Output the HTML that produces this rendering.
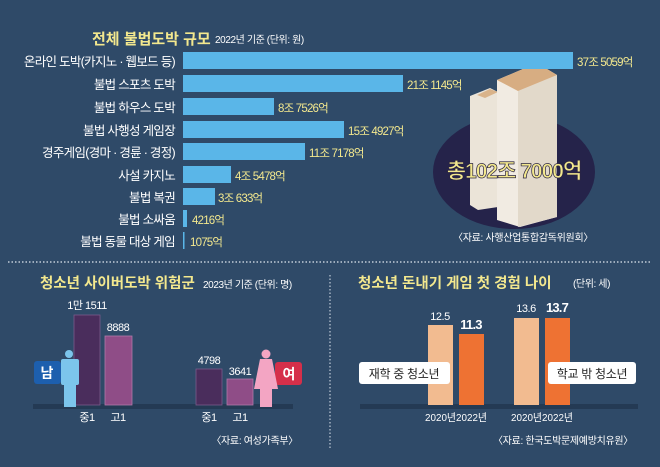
<!DOCTYPE html>
<html><head><meta charset="utf-8"><style>
body{margin:0;width:660px;height:467px;overflow:hidden;background:#2f4a68;}
svg{display:block}
text{font-family:"Liberation Sans","Noto Sans CJK KR",sans-serif;}
</style></head><body>
<svg width="660" height="467" viewBox="0 0 660 467">
<rect width="660" height="467" fill="#2f4a68"/>
<text x="92" y="44" font-size="15" font-weight="bold" fill="#f3e88e">전체 불법도박 규모</text>
<text x="215" y="43" font-size="10" fill="#fff" letter-spacing="-0.4">2022년 기준 (단위: 원)</text>
<ellipse cx="514" cy="172" rx="81" ry="57" fill="#25234a"/>
<polygon points="470,96 490,88 498,92 498,207 478,210 470,205" fill="#ebe4d8"/>
<polygon points="477,95 490,89 498,92 485,98" fill="#d9b38a"/>
<polygon points="497,80 537,63 557,75 557,217 520,227 497,220" fill="#f1ebe2"/>
<polygon points="518,91 557,75 557,217 518,227" fill="#e2d9ca"/>
<polygon points="497,80 537,63 557,75 518,91" fill="#d7ad82"/>
<text x="514" y="178" font-size="21" font-weight="bold" fill="#f3e88e" text-anchor="middle" stroke="#2a2340" stroke-width="0.7" letter-spacing="-1">총102조 7000억</text>
<text x="453" y="241" font-size="10" fill="#fff" letter-spacing="-0.3">〈자료: 사행산업통합감독위원회〉</text>
<g font-size="12.5" fill="#fff" text-anchor="end" letter-spacing="-0.7">
<text x="175" y="66">온라인 도박(카지노 · 웹보드 등)</text>
<text x="175" y="89">불법 스포츠 도박</text>
<text x="175" y="112">불법 하우스 도박</text>
<text x="175" y="135">불법 사행성 게임장</text>
<text x="175" y="157">경주게임(경마 · 경륜 · 경정)</text>
<text x="175" y="180">사설 카지노</text>
<text x="175" y="202">불법 복권</text>
<text x="175" y="224">불법 소싸움</text>
<text x="175" y="246">불법 동물 대상 게임</text>
</g>
<g fill="#5ab6e8">
<rect x="183" y="52" width="390" height="17"/>
<rect x="183" y="75" width="220" height="17"/>
<rect x="183" y="98" width="91" height="17"/>
<rect x="183" y="121" width="161" height="17"/>
<rect x="183" y="143" width="122" height="17"/>
<rect x="183" y="166" width="48" height="17"/>
<rect x="183" y="188" width="32" height="17"/>
<rect x="183" y="210" width="4" height="17"/>
<rect x="183" y="232" width="1.5" height="17"/>
</g>
<g font-size="11.5" fill="#f3e88e" letter-spacing="-0.8">
<text x="577" y="66">37조 5059억</text>
<text x="407" y="89">21조 1145억</text>
<text x="278" y="112">8조 7526억</text>
<text x="348" y="135">15조 4927억</text>
<text x="309" y="157">11조 7178억</text>
<text x="235" y="180">4조 5478억</text>
<text x="218" y="202">3조 633억</text>
<text x="192" y="224">4216억</text>
<text x="190" y="246">1075억</text>
</g>
<line x1="8" y1="262" x2="652" y2="262" stroke="#dfe6ee" stroke-width="1.2" stroke-dasharray="1.5,2"/>
<line x1="330" y1="275" x2="330" y2="450" stroke="#dfe6ee" stroke-width="1" stroke-dasharray="1.5,2"/>
<text x="40" y="288" font-size="14.5" font-weight="bold" fill="#f3e88e">청소년 사이버도박 위험군</text>
<text x="203" y="288" font-size="10" fill="#fff" letter-spacing="-0.4">2023년 기준 (단위: 명)</text>
<rect x="33" y="404" width="260" height="5" fill="#243a54"/>
<rect x="74" y="315" width="26" height="90" fill="#4a2d5c" stroke="#7a5a8a" stroke-width="0.8"/>
<rect x="105" y="336" width="27" height="69" fill="#8f4d87" stroke="#b07aa8" stroke-width="0.8"/>
<rect x="196" y="369" width="26" height="36" fill="#4a2d5c" stroke="#7a5a8a" stroke-width="0.8"/>
<rect x="227" y="379" width="26" height="26" fill="#8f4d87" stroke="#b07aa8" stroke-width="0.8"/>
<g font-size="11" fill="#fff" text-anchor="middle" letter-spacing="-0.5">
<text x="87" y="309">1만 1511</text>
<text x="118" y="331">8888</text>
<text x="209" y="364">4798</text>
<text x="240" y="375">3641</text>
<text x="87" y="421">중1</text><text x="118" y="421">고1</text>
<text x="209" y="421">중1</text><text x="240" y="421">고1</text>
</g>
<rect x="34" y="361" width="27" height="23" rx="3" fill="#1d5fae"/>
<text x="47" y="378" font-size="14" font-weight="bold" fill="#fff" text-anchor="middle">남</text>
<circle cx="69" cy="354" r="4" fill="#7cc5ec"/>
<rect x="61" y="359" width="18" height="26" rx="2" fill="#7cc5ec"/>
<rect x="64" y="383" width="12" height="24" fill="#7cc5ec"/>
<rect x="275" y="362" width="27" height="23" rx="3" fill="#d52f4a"/>
<text x="289" y="379" font-size="14" font-weight="bold" fill="#fff" text-anchor="middle">여</text>
<circle cx="266" cy="354" r="4.5" fill="#f3a5c3"/>
<polygon points="260,359 272,359 278,389 254,389" fill="#f3a5c3"/>
<rect x="260" y="387" width="12" height="20" fill="#f3a5c3"/>
<text x="298" y="444" font-size="10" fill="#fff" text-anchor="end" letter-spacing="-0.3">〈자료: 여성가족부〉</text>
<text x="358" y="288" font-size="14.5" font-weight="bold" fill="#f3e88e">청소년 돈내기 게임 첫 경험 나이</text>
<text x="573" y="287" font-size="10" fill="#fff" letter-spacing="-0.4">(단위: 세)</text>
<rect x="360" y="404" width="278" height="5" fill="#243a54"/>
<rect x="428" y="325" width="25" height="80" fill="#f2bb90"/>
<rect x="459" y="334" width="25" height="71" fill="#ee7233"/>
<rect x="514" y="318" width="25" height="87" fill="#f2bb90"/>
<rect x="545" y="318" width="25" height="87" fill="#ee7233"/>
<g fill="#fff" text-anchor="middle">
<text x="440" y="320" font-size="11" letter-spacing="-0.5">12.5</text>
<text x="471" y="329" font-size="13" font-weight="bold" letter-spacing="-0.8">11.3</text>
<text x="526" y="312" font-size="11" letter-spacing="-0.5">13.6</text>
<text x="557" y="312" font-size="13" font-weight="bold" letter-spacing="-0.8">13.7</text>
<g font-size="10.5">
<text x="425" y="421" text-anchor="start" textLength="31" lengthAdjust="spacingAndGlyphs">2020년</text>
<text x="456" y="421" text-anchor="start" textLength="31" lengthAdjust="spacingAndGlyphs">2022년</text>
<text x="511" y="421" text-anchor="start" textLength="31" lengthAdjust="spacingAndGlyphs">2020년</text>
<text x="542" y="421" text-anchor="start" textLength="31" lengthAdjust="spacingAndGlyphs">2022년</text>
</g>
</g>
<rect x="359" y="362" width="91" height="22" rx="3" fill="#fff"/>
<text x="404" y="378" font-size="12" fill="#222" text-anchor="middle" letter-spacing="-0.3">재학 중 청소년</text>
<rect x="548" y="362" width="88" height="22" rx="3" fill="#fff"/>
<text x="592" y="378" font-size="12" fill="#222" text-anchor="middle" letter-spacing="-0.3">학교 밖 청소년</text>
<text x="633" y="444" font-size="10" fill="#fff" text-anchor="end" letter-spacing="-0.3">〈자료: 한국도박문제예방치유원〉</text>
</svg>
</body></html>
